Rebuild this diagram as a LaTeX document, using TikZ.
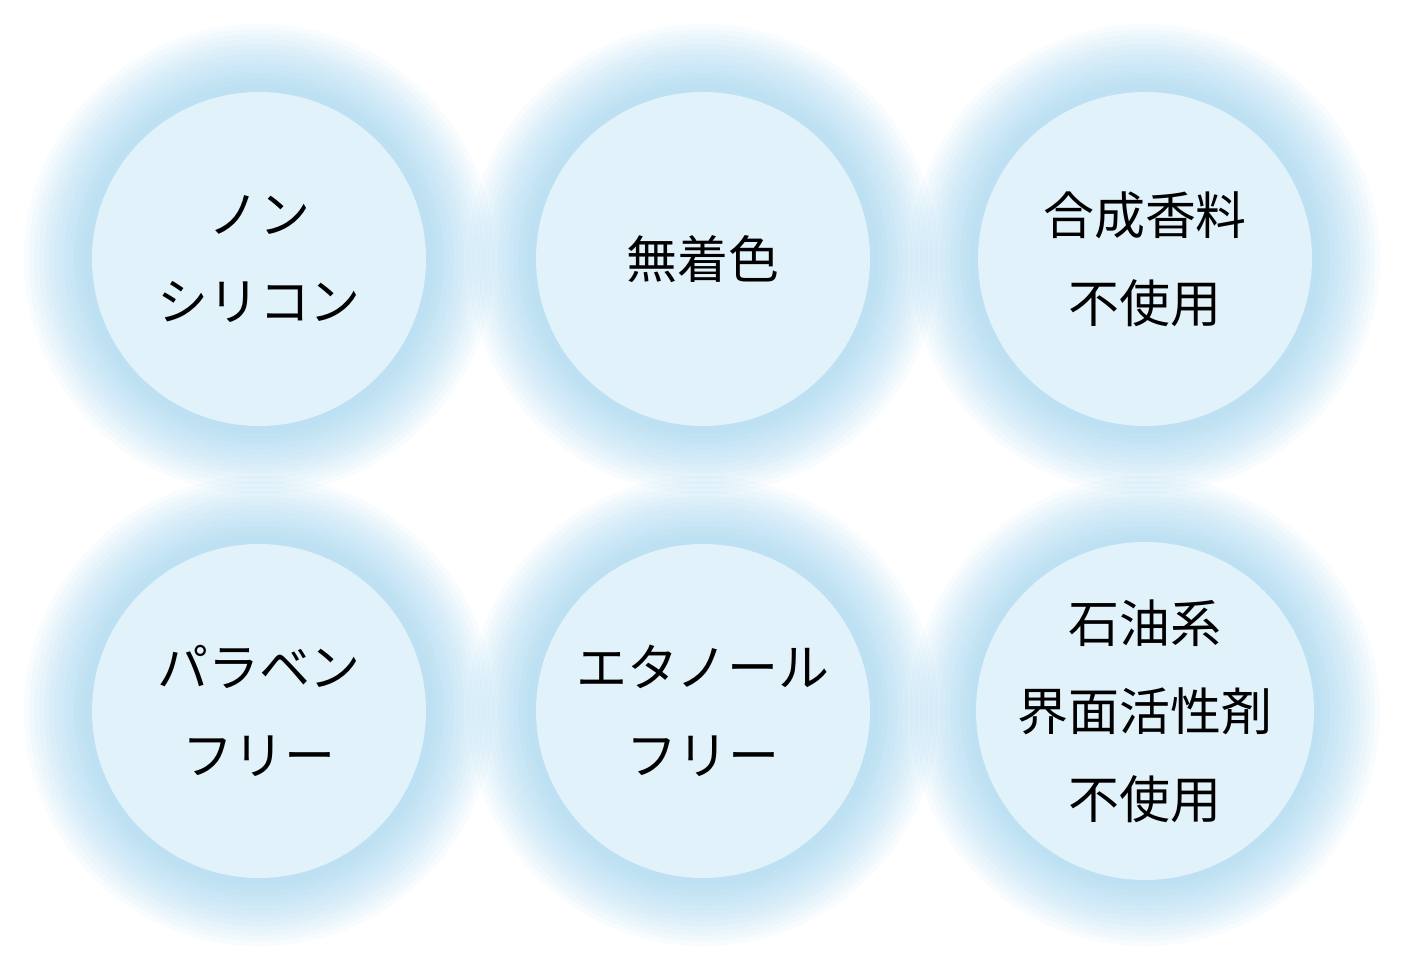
\documentclass[tikz,border=0pt]{standalone}
\usepackage{fontspec}
\newfontfamily\jpfont{Noto Sans CJK JP}
\definecolor{glowblue}{HTML}{8FD0EE}
\definecolor{discfill}{HTML}{E1F2FA}
\begin{document}
\begin{tikzpicture}
	\tikzstyle{disc}=[circle,fill=discfill,minimum size=3.34cm,inner sep=0pt,align=center,
		font=\jpfont\fontsize{14.5}{25}\selectfont]
	\fill[white] (0,0) rectangle (14.04,9.70);
	\foreach \x/\y in {2.59/7.11,7.03/7.11,11.45/7.11,2.59/2.59,7.03/2.59,11.45/2.59}{
		\foreach \r in {2.35,2.3,...,1.7}{
			\fill[glowblue,opacity=0.06] (\x,\y) circle (\r);
		}
	}
	\node[disc] (nonsilicone) at (2.59,7.11) {ノン\\シリコン};
	\node[disc] (colorfree) at (7.03,7.11) {無着色};
	\node[disc] (fragrance) at (11.45,7.11) {合成香料\\不使用};
	\node[disc] (paraben) at (2.59,2.59) {パラベン\\フリー};
	\node[disc] (ethanol) at (7.03,2.59) {エタノール\\フリー};
	\node[disc] (surfactant) at (11.45,2.59) {石油系\\界面活性剤\\不使用};
\end{tikzpicture}
\end{document}
